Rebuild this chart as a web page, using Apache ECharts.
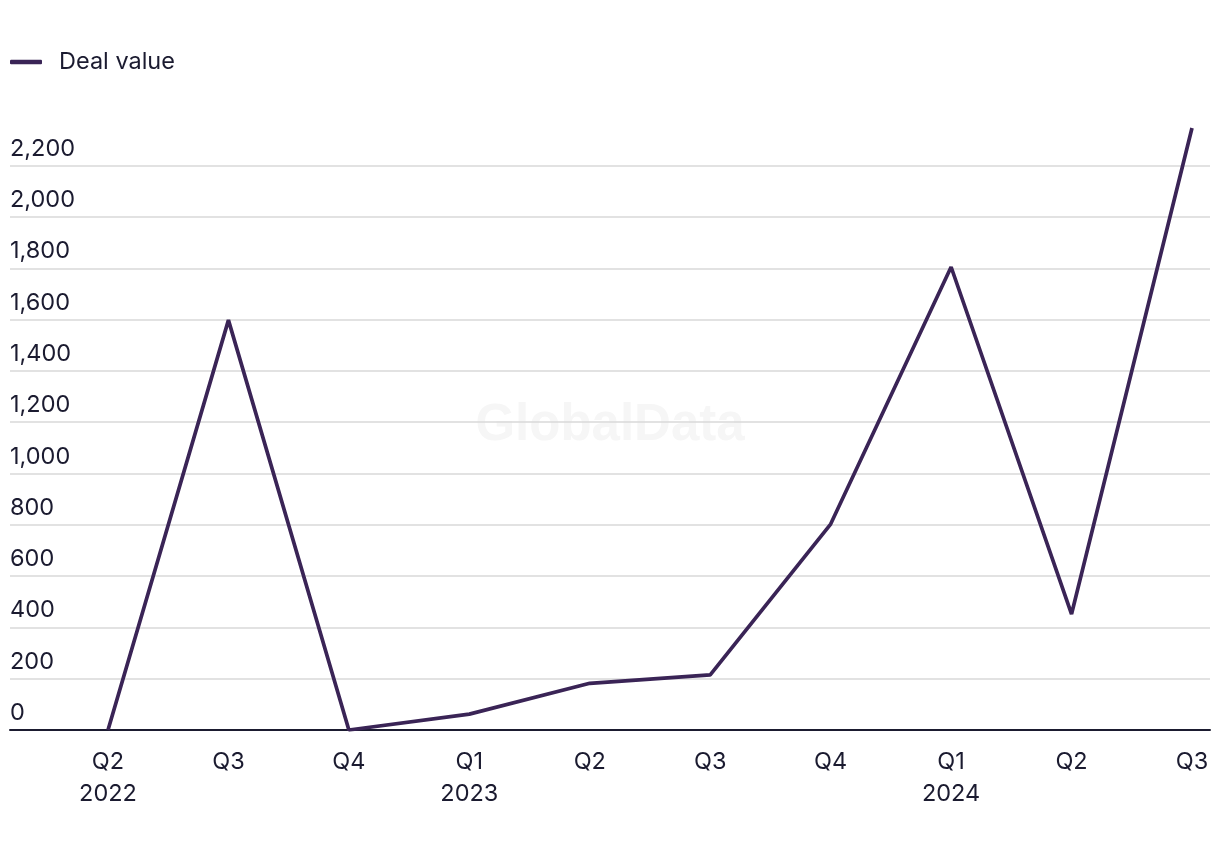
<!DOCTYPE html>
<html>
<head>
<meta charset="utf-8">
<script src="https://cdn.jsdelivr.net/npm/echarts@6/dist/echarts.min.js"></script>
<style>html,body{margin:0;padding:0;background:#fff}#c{width:1220px;height:850px}</style>
</head>
<body>
<div id="c"></div>
<script>
const quarters = ['Q2','Q3','Q4','Q1','Q2','Q3','Q4','Q1','Q2','Q3'];
const years = ['2022','','','2023','','','','2024','',''];
const dealValue = [0, 1598, 0, 62, 182, 215, 803, 1805, 452, 2347];
const seriesName = 'Deal value';

const categories = quarters.map((q, i) => years[i] ? q + '\n' + years[i] : q);
const textColor = '#1b1b30';
const font = 'Inter';
const gridTop = 114.4, gridBottom = 120;

const chart = echarts.init(document.getElementById('c'), null, {renderer: 'canvas'});
chart.setOption({
  animation: false,
  backgroundColor: '#fff',
  graphic: [{
    type: 'text', left: 'center', top: 400, z: 0,
    style: {text: 'GlobalData', fontSize: 51, fontWeight: 'bold', fontFamily: 'Liberation Sans', fill: '#f6f6f6'}
  }],
  legend: {
    left: 10, top: 50, padding: 0, icon: 'roundRect', itemWidth: 32, itemHeight: 4.5,
    textStyle: {fontFamily: font, fontSize: 23.5, color: textColor, padding: [0, 0, 0, 12]},
    data: [seriesName]
  },
  grid: [
    {left: 10, right: 10, top: gridTop, bottom: gridBottom, containLabel: false},
    {left: 108, right: 28, top: gridTop, bottom: gridBottom, containLabel: false}
  ],
  xAxis: [
    {gridIndex: 0, type: 'value', min: 0, max: 1, show: true,
     axisLine: {show: true, onZero: false, lineStyle: {color: textColor, width: 2}},
     axisTick: {show: false}, axisLabel: {show: false}, splitLine: {show: false}},
    {gridIndex: 1, type: 'category', data: categories, boundaryGap: false,
     axisLine: {show: false}, axisTick: {show: false}, splitLine: {show: false},
     axisLabel: {fontFamily: font, fontSize: 23.5, color: textColor, margin: 16, lineHeight: 32, interval: 0}}
  ],
  yAxis: [
    {gridIndex: 0, type: 'value', min: 0, max: 2400, interval: 200,
     axisLine: {show: false}, axisTick: {show: false},
     splitLine: {show: true, showMaxLine: false, showMinLine: false, lineStyle: {color: '#d9d9d9', width: 1.5}},
     axisLabel: {inside: true, margin: 0, align: 'left', verticalAlign: 'bottom', padding: [0, 0, 5, 0],
       showMaxLabel: false, fontFamily: font, fontSize: 23.5, color: textColor,
       formatter: v => v.toLocaleString('en-US')}},
    {gridIndex: 1, type: 'value', min: 0, max: 2400, interval: 200, show: false,
     splitLine: {show: false}}
  ],
  series: [{
    name: seriesName, type: 'line', xAxisIndex: 1, yAxisIndex: 1,
    data: dealValue, symbol: 'none', z: 5,
    lineStyle: {color: '#3a2456', width: 3.7}, itemStyle: {color: '#3a2456'}
  }]
});
</script>
</body>
</html>
